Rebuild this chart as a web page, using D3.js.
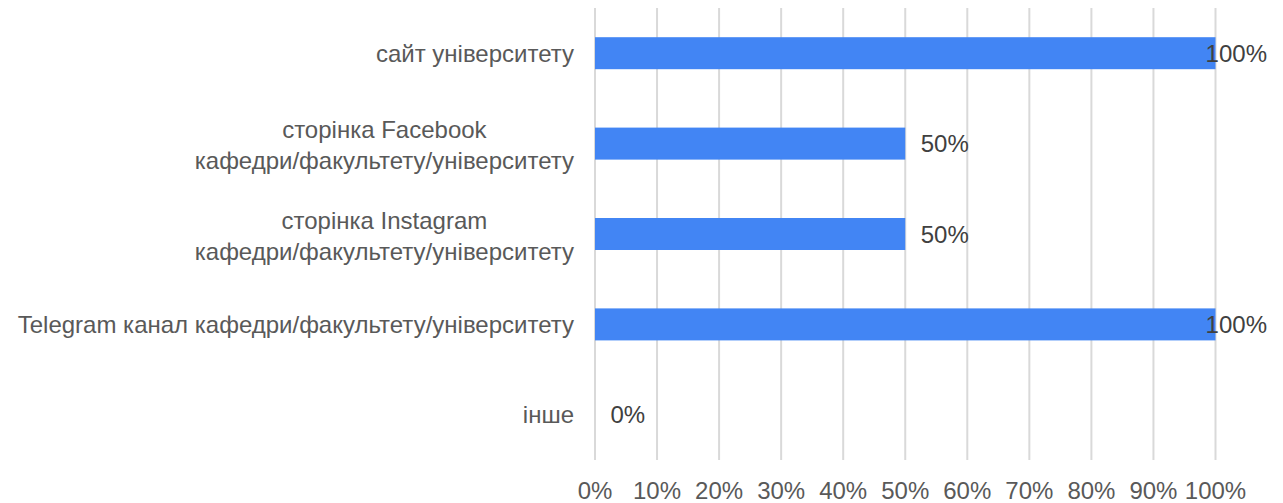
<!DOCTYPE html>
<html>
<head>
<meta charset="utf-8">
<script src="https://cdn.jsdelivr.net/npm/d3@7"></script>
<style>
  body { margin: 0; background: #fff; }
  svg { display: block; }
</style>
</head>
<body>
<svg id="chart" width="1283" height="503"></svg>
<script>
// categories, top to bottom (multi-line labels split with \n)
const categories = [
  "сайт університету",
  "сторінка Facebook\nкафедри/факультету/університету",
  "сторінка Instagram\nкафедри/факультету/університету",
  "Telegram канал кафедри/факультету/університету",
  "інше"
];
const values = [1, 0.5, 0.5, 1, 0];
const ticks = [0, 0.1, 0.2, 0.3, 0.4, 0.5, 0.6, 0.7, 0.8, 0.9, 1];

const FONT = "'Liberation Sans', Arial, sans-serif";
const FS = 24;
const svg = d3.select("#chart");

const x = d3.scaleLinear().domain([0, 1]).range([595, 1215.5]);
const y = d3.scaleBand().domain(categories).range([8, 460]).paddingInner(0.646).paddingOuter(0.323);

const pct = d3.format(".0%");

// gridlines
svg.append("g")
  .selectAll("line")
  .data(ticks)
  .enter()
  .append("line")
  .attr("x1", d => x(d))
  .attr("x2", d => x(d))
  .attr("y1", 8)
  .attr("y2", 460)
  .attr("stroke", "#d9d9d9")
  .attr("stroke-width", 2);

// tick labels
svg.append("g")
  .selectAll("text")
  .data(ticks)
  .enter()
  .append("text")
  .attr("x", d => x(d))
  .attr("y", 499)
  .attr("text-anchor", "middle")
  .attr("font-family", FONT)
  .attr("font-size", FS)
  .attr("fill", "#595959")
  .text(d => pct(d));

// bars
svg.append("g")
  .selectAll("rect")
  .data(categories)
  .enter()
  .append("rect")
  .attr("x", x(0))
  .attr("y", d => y(d))
  .attr("width", (d, i) => x(values[i]) - x(0))
  .attr("height", y.bandwidth())
  .attr("fill", "#4285f4");

// category labels: block right-aligned at 574, lines centred inside the block
const lineH = 31;
const LABEL_RIGHT = 574;
svg.append("g")
  .selectAll("text")
  .data(categories)
  .enter()
  .append("text")
  .attr("font-family", FONT)
  .attr("font-size", FS)
  .attr("fill", "#595959")
  .each(function(d) {
    const lines = d.split("\n");
    const cy = y(d) + y.bandwidth() / 2;
    const t = d3.select(this);
    const spans = lines.map((ln, k) =>
      t.append("tspan")
        .attr("y", cy + 8.5 + 1.5 * (lines.length - 1) + (k - (lines.length - 1) / 2) * lineH)
        .text(ln)
    );
    const widths = spans.map(s => s.node().getComputedTextLength());
    const maxW = d3.max(widths);
    const mid = LABEL_RIGHT - maxW / 2;
    spans.forEach(s => s.attr("x", mid).attr("text-anchor", "middle"));
  });

// data labels
svg.append("g")
  .selectAll("text")
  .data(categories)
  .enter()
  .append("text")
  .attr("y", d => y(d) + y.bandwidth() / 2 + 8.5)
  .attr("font-family", FONT)
  .attr("font-size", FS)
  .attr("fill", "#404040")
  .text((d, i) => pct(values[i]))
  .each(function(d, i) {
    const w = this.getComputedTextLength();
    const px = Math.min(x(values[i]) + 15.5, 1267 - w);
    d3.select(this).attr("x", px);
  });
</script>
</body>
</html>
